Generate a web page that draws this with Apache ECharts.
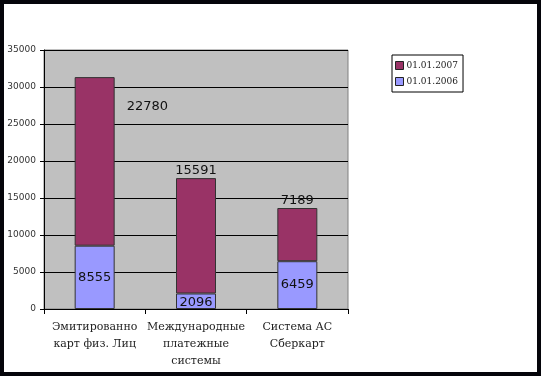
<!DOCTYPE html>
<html>
<head>
<meta charset="utf-8">
<script src="https://cdn.jsdelivr.net/npm/echarts@6/dist/echarts.min.js"></script>
<style>
html, body { margin: 0; padding: 0; background: #fff; }
#chart { position: absolute; left: 0; top: 0; width: 541px; height: 376px; }
#frame { position: absolute; left: 0; top: 0; width: 541px; height: 376px; box-sizing: border-box; border: 4px solid #05050a; pointer-events: none; }
</style>
</head>
<body>
<div id="chart"></div>
<div id="frame"></div>
<script>
var categories = ['Эмитированно\nкарт физ. Лиц', 'Международные\nплатежные\nсистемы', 'Система АС\nСберкарт'];
var values2006 = [8555, 2096, 6459];
var values2007 = [22780, 15591, 7189];

var myChart = echarts.init(document.getElementById('chart'));

var option = {
    animation: false,
    backgroundColor: '#fff',
    legend: {
        orient: 'vertical',
        left: 392,
        top: 55,
        data: ['01.01.2007', '01.01.2006'],
        icon: 'rect',
        itemWidth: 8,
        itemHeight: 8,
        itemGap: 7,
        padding: [6, 5, 6, 3],
        borderColor: '#000',
        borderWidth: 1,
        textStyle: { fontFamily: 'DejaVu Serif', fontSize: 9, color: '#222', padding: [0, 0, 0, -2] },
        itemStyle: { borderColor: '#222', borderWidth: 1 }
    },
    grid: {
        left: 44,
        top: 50,
        right: 193,
        bottom: 67,
        show: true,
        backgroundColor: '#c0c0c0',
        borderColor: '#808080',
        borderWidth: 1
    },
    xAxis: {
        type: 'category',
        data: categories,
        axisLine: { lineStyle: { color: '#000' } },
        axisTick: { show: true, length: 5, lineStyle: { color: '#000' } },
        axisLabel: {
            fontFamily: 'DejaVu Serif',
            fontSize: 11,
            color: '#222',
            lineHeight: 17,
            margin: 10,
            interval: 0
        }
    },
    yAxis: {
        type: 'value',
        min: 0,
        max: 35000,
        interval: 5000,
        axisLine: { show: true, lineStyle: { color: '#000' } },
        axisTick: { show: true, length: 4, lineStyle: { color: '#000' } },
        splitLine: { lineStyle: { color: '#000', width: 1 } },
        axisLabel: {
            fontFamily: 'DejaVu Sans',
            fontSize: 9,
            color: '#333',
            margin: 8,
            formatter: function (v) { return String(v); }
        }
    },
    series: [
        {
            name: '01.01.2006',
            type: 'bar',
            stack: 'total',
            barWidth: 40,
            itemStyle: { color: '#9999ff', borderColor: '#333', borderWidth: 1 },
            label: {
                show: true,
                position: 'inside',
                fontFamily: 'DejaVu Sans',
                fontSize: 13,
                color: '#111'
            },
            data: values2006.map(function (v, i) {
                var d = { value: v };
                if (i === 1) d.label = { position: 'insideBottom', distance: 0 };
                return d;
            })
        },
        {
            name: '01.01.2007',
            type: 'bar',
            stack: 'total',
            barWidth: 40,
            itemStyle: { color: '#993366', borderColor: '#333', borderWidth: 1 },
            label: {
                show: true,
                position: 'top',
                distance: 1,
                fontFamily: 'DejaVu Sans',
                fontSize: 13,
                color: '#111'
            },
            data: values2007.map(function (v, i) {
                var d = { value: v };
                if (i === 0) d.label = { position: [52, 23], align: 'left', verticalAlign: 'top' };
                return d;
            })
        }
    ]
};
myChart.setOption(option);
</script>
</body>
</html>
